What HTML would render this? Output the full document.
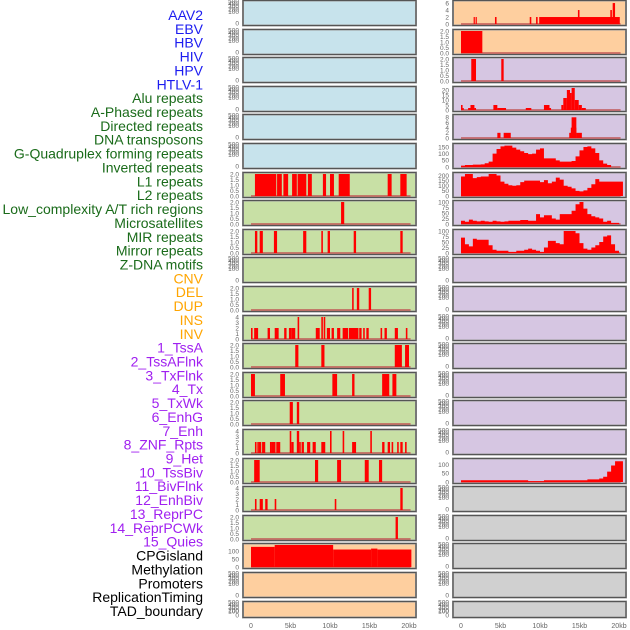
<!DOCTYPE html>
<html><head><meta charset="utf-8"><style>
html,body{margin:0;padding:0;background:#fff;width:630px;height:630px;overflow:hidden}
svg{display:block;font-family:"Liberation Sans",sans-serif}
</style></head><body>
<svg id="chart" width="630" height="630" viewBox="0 0 630 630"></svg>
<script>
// ---- data ----
const trackLabels=["AAV2","EBV","HBV","HIV","HPV","HTLV-1","Alu repeats","A-Phased repeats","Directed repeats","DNA transposons","G-Quadruplex forming repeats","Inverted repeats","L1 repeats","L2 repeats","Low_complexity A/T rich regions","Microsatellites","MIR repeats","Mirror repeats","Z-DNA motifs","CNV","DEL","DUP","INS","INV","1_TssA","2_TssAFlnk","3_TxFlnk","4_Tx","5_TxWk","6_EnhG","7_Enh","8_ZNF_Rpts","9_Het","10_TssBiv","11_BivFlnk","12_EnhBiv","13_ReprPC","14_ReprPCWk","15_Quies","CPGisland","Methylation","Promoters","ReplicationTiming","TAD_boundary"];
const labelGroups=["v","v","v","v","v","v","r","r","r","r","r","r","r","r","r","r","r","r","r","s","s","s","s","s","c","c","c","c","c","c","c","c","c","c","c","c","c","c","c","k","k","k","k","k"];
const xTickLabels=["0","5kb","10kb","15kb","20kb"];
const xTickValues=[0,5,10,15,20];
// bar series: [startKb, endKb, value]
const leftL1=[[0.5,3.2,2],[3.3,3.9,2],[4.1,4.7,2],[5.2,5.8,2],[5.9,7.0,2],[7.2,7.7,2],[9.1,9.5,2],[10.0,10.5,2],[11.1,12.5,2],[17.3,17.8,2],[18.9,19.7,2]];
const leftLowComplex=[[11.4,11.8,2]];
const leftMIR=[[0.5,0.8,2],[1.1,1.5,2],[2.9,3.3,2],[6.6,7.0,2],[8.9,9.1,2],[9.7,10.0,2],[13.0,13.3,2],[18.9,19.2,2]];
const leftDEL=[[12.8,13.0,2],[13.4,13.7,2],[14.9,15.2,2]];
const leftINS=[[0.0,0.2,2],[0.4,0.9,2],[2.1,2.4,2],[3.0,3.5,2],[4.2,4.5,2],[4.8,5.1,2],[5.1,5.6,2],[5.9,6.1,4],[8.2,8.7,2],[8.9,9.1,4],[9.2,9.4,4],[9.6,10.0,2],[10.2,10.5,2],[10.9,11.3,2],[11.6,12.3,2],[12.4,13.6,2],[13.7,14.0,2],[14.2,14.4,2],[14.6,14.9,2],[16.4,16.6,2],[16.9,17.2,2],[18.2,18.6,2],[19.6,19.8,2]];
const leftTssA=[[5.6,6.0,2],[8.9,9.3,2],[18.2,19.1,2],[19.5,20.0,2]];
const leftTssAFlnk=[[0.0,0.5,2],[3.7,4.3,2],[10.3,10.9,2],[12.8,13.1,2],[16.6,17.5,2],[17.9,18.4,2]];
const leftTxFlnk=[[4.9,5.3,2],[5.8,6.1,2]];
const leftTx=[[0.5,0.7,2],[0.8,1.0,2],[1.0,1.3,2],[1.4,1.8,2],[2.4,2.6,2],[2.6,3.1,2],[3.2,3.7,2],[4.9,5.1,4],[5.1,5.4,2],[5.8,6.1,4],[6.1,6.3,2],[6.4,6.7,2],[7.1,7.5,2],[7.8,8.2,2],[8.9,9.4,2],[10.0,10.2,4],[11.6,11.8,4],[12.8,13.3,2],[15.1,15.3,4],[16.6,16.9,2],[17.3,17.6,2],[17.8,18.0,2],[18.5,18.7,2],[18.9,19.2,2],[19.5,19.7,2]];
const leftTxWk=[[0.4,1.1,2],[8.1,8.5,2],[10.9,11.4,2],[14.4,14.9,2],[16.2,16.6,2]];
const leftEnhG=[[0.5,0.7,2],[1.1,1.5,2],[1.8,2.1,2],[3.0,3.2,2],[10.6,10.8,2],[18.9,19.2,4]];
const leftEnh=[[18.3,18.6,2]];
const leftCpG=[[0,3.0,129],[3.0,10.4,141],[10.4,15.2,112],[15.2,16.0,118],[16.0,20.3,112]];
const rightAAV2=[[1.6,1.75,2],[1.85,2.0,2],[4.3,4.5,2],[8.7,8.9,2],[9.5,9.7,2],[9.9,20.1,2],[14.8,15.0,4],[18.9,19.1,4],[19.2,19.5,6]];
const rightEBV=[[0,2.7,2]];
const rightHIV=[[1.3,1.9,2],[5.1,5.4,2]];
const rightAlu=[[0,0.2,5],[0.2,0.35,2],[0.9,1.2,2],[1.2,1.7,5],[1.7,1.9,2],[4.1,4.6,5],[4.6,5.7,2],[8.2,8.9,2],[10.5,11.2,5],[11.2,11.4,2],[12.7,12.95,5],[12.95,13.4,12],[13.4,13.8,20],[13.8,14.0,17],[14.0,14.4,22],[14.4,14.9,10],[14.9,15.3,5],[15.3,15.8,2]];
const rightRow5=[[4.6,5.0,2],[5.4,6.3,2],[13.7,14.1,2],[13.9,14.0,4],[14.0,14.6,8],[14.4,14.6,4],[14.6,15.3,2]];
// binned area series (0.5 kb bins starting at 0)
const rightGQuad=[10,15,15,18,18,20,28,40,100,135,155,160,160,145,130,118,105,97,100,130,140,65,65,65,50,40,40,40,45,80,125,150,155,140,105,50,25,15,0,0];
const rightInverted=[190,215,215,175,185,190,190,215,215,200,140,120,105,100,105,135,150,150,150,150,135,155,125,140,180,160,100,90,75,50,45,55,80,115,165,140,140,140,140,140,140];
const rightL1=[15,10,20,15,12,15,12,10,15,12,10,12,15,15,15,18,18,15,15,45,30,40,40,25,20,45,45,45,60,90,100,70,45,35,30,25,10,15,5,5];
const rightL2=[70,40,30,65,60,60,60,35,15,10,10,10,5,5,10,10,15,20,15,10,5,25,55,55,45,40,100,100,100,90,45,20,15,25,35,50,75,80,40,10];
const rightTssBiv=[10,10,10,10,10,10,10,10,10,10,10,10,10,10,10,10,10,5,5,5,5,10,10,10,10,10,10,10,10,10,10,10,15,15,15,20,30,60,95,120,120];
// ---- layout (not data) ----
const svg=document.getElementById('chart');
const NS='http://www.w3.org/2000/svg';
const BG={blue:'#c7e3ec',green:'#c8e0a5',orange:'#fecf9f',purple:'#d6c6e2',gray:'#d0d0d0'};
const T500=[0,100,200,300,400,500],T2=[0,0.5,1,1.5,2],T4=[0,1,2,3,4];
const leftRows=[
['blue',null,500,T500],['blue',null,500,T500],['blue',null,500,T500],['blue',null,500,T500],['blue',null,500,T500],['blue',null,500,T500],
['green',leftL1,2,T2],['green',leftLowComplex,2,T2],['green',leftMIR,2,T2],['green',null,500,T500],['green',leftDEL,2,T2],['green',leftINS,4,T4],
['green',leftTssA,2,T2],['green',leftTssAFlnk,2,T2],['green',leftTxFlnk,2,T2],['green',leftTx,4,T4],['green',leftTxWk,2,T2],['green',leftEnhG,4,T4],
['green',leftEnh,2,T2],['orange',leftCpG,141,[0,50,100]],['orange',null,500,T500],['orange',null,500,T500]];
const rightRows=[
['orange',rightAAV2,6.3,[0,2,4,6]],['orange',rightEBV,2,T2],['purple',rightHIV,2,T2],['purple',rightAlu,22,[0,5,10,15,20]],['purple',rightRow5,8.5,[0,2,4,6,8]],
['purple',rightGQuad,165,[0,50,100,150]],['purple',rightInverted,215,[0,50,100,150,200]],['purple',rightL1,100,[0,25,50,75,100]],['purple',rightL2,100,[0,25,50,75,100]],
['purple',null,500,T500],['purple',null,500,T500],['purple',null,500,T500],['purple',null,500,T500],['purple',null,500,T500],['purple',null,500,T500],['purple',null,500,T500],
['purple',rightTssBiv,127,[0,50,100]],['gray',null,500,T500],['gray',null,500,T500],['gray',null,500,T500],['gray',null,500,T500],['gray',null,500,T500]];
function mk(tag,attrs,parent){const e=document.createElementNS(NS,tag);for(const k in attrs)e.setAttribute(k,attrs[k]);(parent||svg).appendChild(e);return e;}
const PX_PER_KB=7.9;
function drawColumn(rows,px,x0,side){
  rows.forEach((r,i)=>{
    const top=Math.round(i*28.6)+0.5,h=(i===21?16:25),bottom=top+h;
    const g=mk('g',{});
    
    
    const bg=mk('rect',{x:px,y:top,width:173,height:h,fill:BG[r[0]],stroke:'#999','stroke-width':2},g);
    
    
    const xs=kb=>x0+kb*PX_PER_KB;
    const max=r[2];
    const ys=v=>bottom-1.5-Math.min(v,max)/max*(h-3);
    if(r[1]){
      const base=mk('line',{x1:xs(0),x2:xs(20.2),y1:bottom-1.5,y2:bottom-1.5,stroke:'#c05050','stroke-width':2,opacity:0.7},g);
      
      
      const data=r[1];
      if(Array.isArray(data[0])){
        data.forEach(d=>{
          const b=mk('rect',{x:xs(d[0]),y:ys(d[2]),width:Math.max(1.2,xs(d[1])-xs(d[0])),height:bottom-1.5-ys(d[2]),fill:'#ff0000'},g);
          
          
        });
      }else{
        let p='M'+xs(0)+','+(bottom-1.5);
        data.forEach((v,k)=>{p+=' L'+xs(k*0.5)+','+ys(v)+' L'+xs(k*0.5+0.5)+','+ys(v);});
        p+=' L'+xs(data.length*0.5)+','+(bottom-1.5)+'Z';
        const a=mk('path',{d:p,fill:'#ff0000'},g);
        
        
      }
    }
    mk('rect',{x:px,y:top,width:173,height:h,fill:'none',stroke:'#555','stroke-width':1},g);
    // y ticks
    const ticks=r[3];
    ticks.forEach((t,j)=>{
      let ty;
      if(max===500){ty=(t===0)?bottom:Math.min(bottom-4,top+3+(500-t)/100*2.6);}
      else ty=ys(t)+2.3;
      const tx=mk('text',{x:px-4,y:ty,'font-size':6.5,fill:'#666','text-anchor':'end'},g);
      tx.textContent=(ticks===T2)?t.toFixed(1):String(t);
      
      
    });
  });
  xTickValues.forEach((v,j)=>{
    const t=mk('text',{x:x0+v*PX_PER_KB,y:628,'font-size':7,fill:'#666','text-anchor':'middle'});
    t.textContent=xTickLabels[j];
    
    
  });
}
drawColumn(leftRows,243,251,'left');
drawColumn(rightRows,453,461,'right');
const LC={v:'#1c1cf0',r:'#1a6b1a',s:'#ffa500',c:'#a020f0',k:'#000'};
trackLabels.forEach((s,i)=>{
  const t=mk('text',{x:203,y:15+i*13.86+5,'font-size':14,fill:LC[labelGroups[i]],'text-anchor':'end'});
  t.textContent=s;
  
  
});
</script>
</body></html>
